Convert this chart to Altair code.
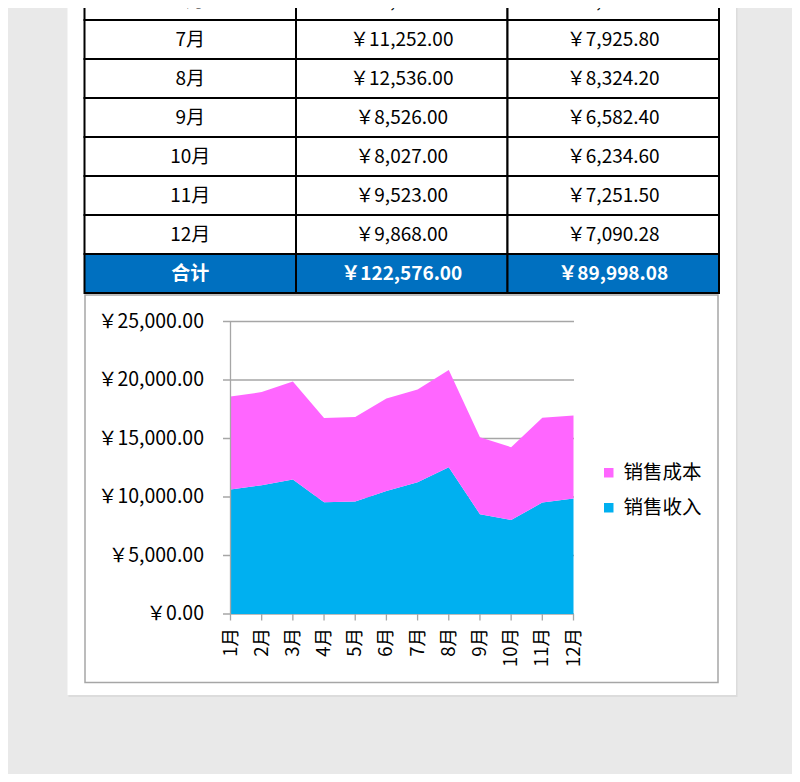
import altair as alt
import pandas as pd

# ---------------- data ----------------
months = ["1月", "2月", "3月", "4月", "5月", "6月", "7月", "8月", "9月", "10月", "11月", "12月"]
revenue = [10650.00, 11000.00, 11500.00, 9560.00, 9611.00, 10523.00, 11252.00, 12536.00,
           8526.00, 8027.00, 9523.00, 9868.00]
cost = [7940.00, 7965.00, 8380.00, 7200.00, 7218.70, 7885.60, 7925.80, 8324.20,
        6582.40, 6234.60, 7251.50, 7090.28]
total_label = "合计"
columns = ["月份", "销售收入", "销售成本"]
series = ["销售成本", "销售收入"]
series_colors = ["#FF66FF", "#00B0F0"]
y_ticks = [0, 5000, 10000, 15000, 20000, 25000]
first_visible_row = 5  # the page is scrolled: rows before 6月 lie above the window

FONT = "Noto Sans CJK SC"

# ---------------- table ----------------
rows = months + [total_label]
rev_all = revenue + [round(sum(revenue), 2)]
cost_all = cost + [round(sum(cost), 2)]
cells = []
for i, (r, rv, cv) in enumerate(zip(rows, rev_all, cost_all)):
    vis = i >= first_visible_row
    cells.append({"row": r, "col": columns[0], "text": r, "vis": vis})
    cells.append({"row": r, "col": columns[1], "text": f"￥{rv:,.2f}", "vis": vis})
    cells.append({"row": r, "col": columns[2], "text": f"￥{cv:,.2f}", "vis": vis})
df_cells = pd.DataFrame(cells)

col_scale = alt.Scale(type="band", domain=columns, range=[76.5, 711], paddingInner=0, paddingOuter=0)
row_scale = alt.Scale(type="band", domain=rows, range=[-222, 285], paddingInner=0, paddingOuter=0)

tbase = alt.Chart(df_cells).encode(
    x=alt.X("col:N", scale=col_scale, axis=None),
    y=alt.Y("row:N", scale=row_scale, axis=None),
)
is_total = f"datum.row === '{total_label}'"
t_rect = tbase.transform_filter("datum.vis").mark_rect(stroke="black", strokeWidth=2).encode(
    fill=alt.condition(is_total, alt.value("#0070C0"), alt.value("white"))
)
t_text = tbase.transform_filter(f"datum.vis && datum.row !== '{total_label}'").mark_text(
    font=FONT, fontSize=19, color="black", baseline="middle", align="center"
).encode(text="text:N")
t_text_total = tbase.transform_filter(is_total).mark_text(
    font=FONT, fontSize=19, color="white", fontWeight="bold", baseline="middle", align="center"
).encode(text="text:N")
table = alt.layer(t_rect, t_text, t_text_total)

# ---------------- area chart ----------------
df_area = pd.DataFrame({"month": months, "销售收入": revenue, "销售成本": cost})
df_ticks = pd.DataFrame({"v": y_ticks})
df_months = pd.DataFrame({"month": months})

x_scale = alt.Scale(type="point", domain=months, range=[222.5, 565.5], padding=0)
y_scale = alt.Scale(domain=[0, 25000], range=[606, 313.5], nice=False, zero=False)
GRID = "#a6a6a6"

grid = alt.Chart(df_ticks).mark_rule(color=GRID, strokeWidth=1.3).encode(
    y=alt.Y("v:Q", scale=y_scale, axis=None),
    x=alt.value(215), x2=alt.value(566),
)
ylabels = alt.Chart(df_ticks).transform_calculate(
    label="'￥' + format(datum.v, ',.2f')"
).mark_text(font=FONT, fontSize=19.5, align="right", baseline="middle", color="black").encode(
    y=alt.Y("v:Q", scale=y_scale, axis=None),
    x=alt.value(196),
    text="label:N",
)
area = alt.Chart(df_area).transform_fold(
    ["销售收入", "销售成本"], as_=["series", "value"]
).transform_calculate(
    lo="datum.series === '销售成本' ? datum['销售收入'] : 0",
    hi="datum.series === '销售成本' ? datum['销售收入'] + datum['销售成本'] : datum['销售收入']",
).mark_area(opacity=1).encode(
    x=alt.X("month:N", scale=x_scale, axis=None),
    y=alt.Y("hi:Q", scale=y_scale, axis=None),
    y2="lo:Q",
    color=alt.Color(
        "series:N",
        scale=alt.Scale(domain=series, range=series_colors),
        legend=alt.Legend(
            orient="none", legendX=591, legendY=455, title=None,
            symbolType="square", symbolSize=90, symbolStrokeWidth=0,
            labelFont=FONT, labelFontSize=19.5, labelColor="black",
            labelOffset=5, rowPadding=14, padding=0,
        ),
    ),
)
yaxis_line = alt.Chart(pd.DataFrame({"month": [months[0]]})).mark_rule(color=GRID, strokeWidth=1.3).encode(
    x=alt.X("month:N", scale=x_scale, axis=None),
    y=alt.datum(0, scale=y_scale), y2=alt.datum(25000),
)
xticks = alt.Chart(df_months).mark_rule(color=GRID, strokeWidth=1.3).encode(
    x=alt.X("month:N", scale=x_scale, axis=None),
    y=alt.value(606), y2=alt.value(612.5),
)
xlabels = alt.Chart(df_months).mark_text(
    font=FONT, fontSize=18.5, angle=270, align="right", baseline="middle", color="black"
).encode(
    x=alt.X("month:N", scale=x_scale, axis=None),
    y=alt.value(620),
    text="month:N",
)
chart_part = alt.layer(grid, ylabels, area, yaxis_line, xticks, xlabels)

# ---------------- decorations ----------------
one = pd.DataFrame({"a": [0]})
card_shadow = alt.Chart(one).mark_rect(fill="#dcdcdc").encode(
    x=alt.value(60.5), x2=alt.value(729.5), y=alt.value(-10), y2=alt.value(689)
)
card = alt.Chart(one).mark_rect(fill="white").encode(
    x=alt.value(59.5), x2=alt.value(728), y=alt.value(-10), y2=alt.value(687)
)
box = alt.Chart(one).mark_rect(fill="white", stroke="#a6a6a6", strokeWidth=1.5).encode(
    x=alt.value(77), x2=alt.value(710), y=alt.value(287), y2=alt.value(674.5)
)

chart = alt.layer(card_shadow, card, table, box, chart_part).resolve_scale(
    x="independent", y="independent"
).properties(
    width=784, height=766, padding=0,
    autosize=alt.AutoSizeParams(type="none"),
    background="#e9e9e9",
).configure_view(stroke=None)

chart.save("out.html", embed_options={"renderer": "svg", "actions": False})
